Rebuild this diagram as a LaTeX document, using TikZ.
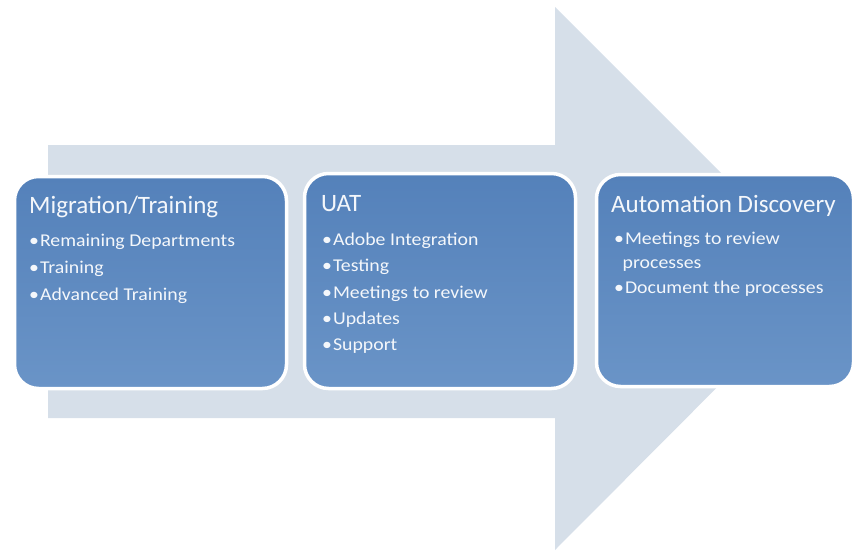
\documentclass[tikz,border=0pt]{standalone}
\usepackage{fontspec}
\setmainfont{Carlito}
\newfontfamily\itemfont[FakeStretch=1.1]{Carlito}
\definecolor{arrowfill}{HTML}{D6DFE9}
\definecolor{boxtop}{HTML}{5481BA}
\definecolor{boxbot}{HTML}{6A94C7}
\definecolor{inktext}{HTML}{F4F7FB}
\begin{document}
\begin{tikzpicture}[x=1pt,y=-1pt,
  stagebox/.style={draw=white, line width=3.5pt, rounded corners=24pt,
    top color=boxtop, bottom color=boxbot, anchor=north west,
    inner sep=0pt, outer sep=0pt},
  stagetitle/.style={anchor=base west, inner sep=0pt, text=inktext,
    font=\fontsize{25}{30}\selectfont},
  stageitem/.style={anchor=base west, inner sep=0pt, text=inktext,
    font=\itemfont\fontsize{18}{24}\selectfont}]
\useasboundingbox (0,0) rectangle (855,554);
% broad process arrow behind the stages
\fill[arrowfill] (48,145) -- (555,145) -- (555,7) -- (826,278)
  -- (555,550) -- (555,418) -- (48,418) -- cycle;

% stage boxes
\node[stagebox, minimum width=272pt, minimum height=212pt] (mig) at (14.5,176.5) {};
\node[stagebox, minimum width=271pt, minimum height=215pt] (uat) at (304.5,173.5) {};
\node[stagebox, minimum width=257pt, minimum height=212pt] (auto) at (596.5,174.5) {};

% stage 1
\node[stagetitle] (migT) at (29,213) {Migration/Training};
\node[stageitem] (mig1) at (29,246) {•\hspace{1pt}Remaining Departments};
\node[stageitem] (mig2) at (29,273) {•\hspace{1pt}Training};
\node[stageitem] (mig3) at (29,300) {•\hspace{1pt}Advanced Training};

% stage 2
\node[stagetitle] (uatT) at (321,211) {UAT};
\node[stageitem] (uat1) at (322,245) {•\hspace{1pt}Adobe Integration};
\node[stageitem] (uat2) at (322,271.5) {•\hspace{1pt}Testing};
\node[stageitem] (uat3) at (322,298) {•\hspace{1pt}Meetings to review};
\node[stageitem] (uat4) at (322,324) {•\hspace{1pt}Updates};
\node[stageitem] (uat5) at (322,350) {•\hspace{1pt}Support};

% stage 3
\node[stagetitle] (autoT) at (611,212) {Automation Discovery};
\node[stageitem] (auto1) at (614,244) {•\hspace{1pt}Meetings to review};
\node[stageitem] (auto1b) at (622.5,268) {processes};
\node[stageitem] (auto2) at (614,293) {•\hspace{1pt}Document the processes};
\end{tikzpicture}
\end{document}
